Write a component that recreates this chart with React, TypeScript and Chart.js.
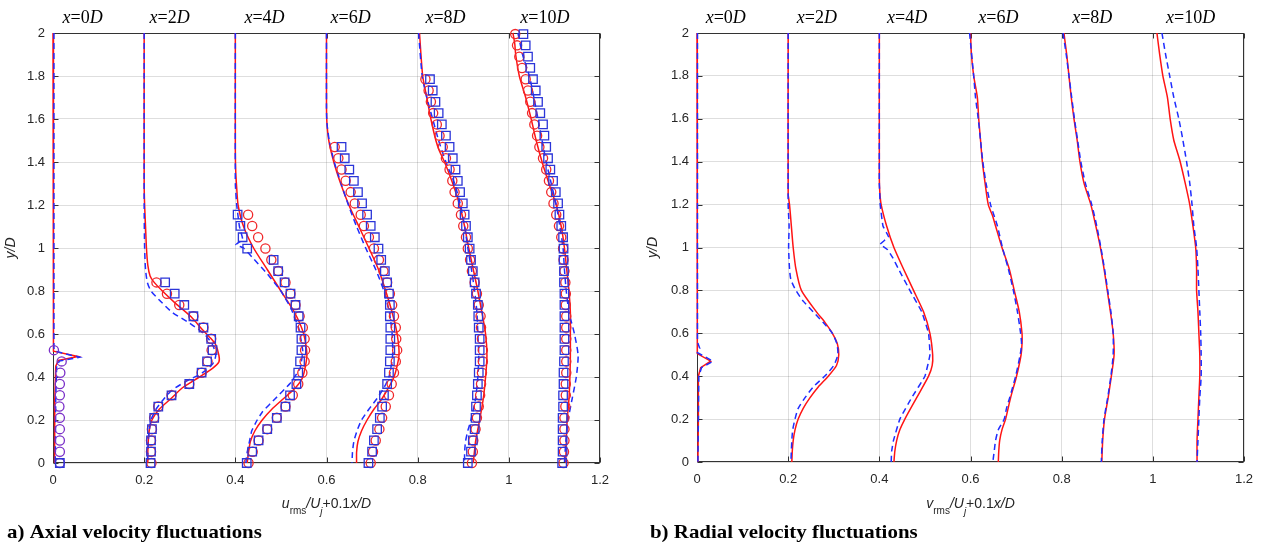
import React, { useEffect, useRef } from "react";
import { Chart, registerables } from "chart.js";

Chart.register(...registerables);

// ---------- data ----------
// y/D levels of the experimental points (bottom-up)
const EXP_Y = [0, 0.0525, 0.105, 0.1575, 0.21, 0.2625, 0.315, 0.3675, 0.42, 0.4725, 0.525, 0.5775, 0.63, 0.6825, 0.735, 0.7875, 0.84, 0.8925, 0.945, 0.9975, 1.05, 1.1025, 1.155, 1.2075, 1.26, 1.3125, 1.365, 1.4175, 1.47, 1.5225, 1.575, 1.6275, 1.68, 1.7325, 1.785, 1.8375, 1.89, 1.9425, 1.995];

const STATION_NAMES = ["0", "2", "4", "6", "8", "10"];
const U_LABEL_X = [0.065, 0.256, 0.464, 0.653, 0.861, 1.079];
const V_LABEL_X = [0.063, 0.263, 0.461, 0.661, 0.867, 1.083];

type P = [number, number][];

// (a) axial – simulation, solid red
const uRed0D: P = [[0, 2], [0, 0.53], [0.002, 0.52], [0.055, 0.495], [0.012, 0.477], [0.006, 0.45], [0.004, 0.3], [0.004, 0.1], [0.003, 0]];
const uRed2D: P = [[0.2, 2], [0.2, 1.3], [0.201, 1.2], [0.203, 1.1], [0.205, 1.0], [0.208, 0.92], [0.213, 0.87], [0.222, 0.84], [0.24, 0.8], [0.27, 0.74], [0.303, 0.68], [0.328, 0.62], [0.346, 0.58], [0.357, 0.55], [0.364, 0.5], [0.364, 0.47], [0.35, 0.44], [0.321, 0.4], [0.284, 0.35], [0.259, 0.3], [0.233, 0.25], [0.217, 0.2], [0.211, 0.15], [0.209, 0.1], [0.208, 0.05], [0.208, 0]];
const uRed4D: P = [[0.4, 2], [0.4, 1.45], [0.401, 1.35], [0.403, 1.28], [0.406, 1.2], [0.418, 1.1], [0.44, 1.0], [0.47, 0.9], [0.5, 0.8], [0.53, 0.7], [0.55, 0.6], [0.557, 0.5], [0.548, 0.4], [0.532, 0.35], [0.506, 0.3], [0.48, 0.25], [0.459, 0.2], [0.443, 0.15], [0.433, 0.1], [0.429, 0.05], [0.426, 0]];
const uRed6D: P = [[0.6, 2], [0.6, 1.65], [0.601, 1.58], [0.605, 1.5], [0.616, 1.4], [0.631, 1.3], [0.649, 1.2], [0.671, 1.1], [0.693, 1.0], [0.714, 0.9], [0.73, 0.8], [0.744, 0.7], [0.755, 0.6], [0.759, 0.5], [0.748, 0.4], [0.722, 0.3], [0.704, 0.25], [0.689, 0.2], [0.677, 0.15], [0.669, 0.1], [0.666, 0.05], [0.666, 0]];
const uRed8D: P = [[0.804, 2], [0.811, 1.8], [0.82, 1.7], [0.829, 1.6], [0.84, 1.5], [0.848, 1.45], [0.859, 1.4], [0.877, 1.3], [0.892, 1.2], [0.903, 1.1], [0.912, 1.0], [0.922, 0.9], [0.932, 0.8], [0.941, 0.7], [0.949, 0.6], [0.952, 0.5], [0.949, 0.4], [0.944, 0.3], [0.936, 0.2], [0.927, 0.1], [0.922, 0]];
const uRed10D: P = [[1.009, 2], [1.013, 1.95], [1.015, 1.9], [1.023, 1.8], [1.037, 1.7], [1.049, 1.6], [1.06, 1.5], [1.073, 1.4], [1.088, 1.3], [1.104, 1.2], [1.115, 1.1], [1.122, 1.0], [1.127, 0.9], [1.132, 0.8], [1.135, 0.7], [1.135, 0.6], [1.135, 0.5], [1.134, 0.4], [1.132, 0.3], [1.128, 0.2], [1.126, 0.1], [1.125, 0]];

// (a) axial – simulation, dashed blue
const uBlue0D: P = [[0.002, 2], [0.002, 0.535], [0.004, 0.52], [0.058, 0.492], [0.014, 0.474], [0.008, 0.45], [0.006, 0.3], [0.005, 0]];
const uBlue2D: P = [[0.2, 2], [0.2, 1.2], [0.201, 1.0], [0.203, 0.9], [0.207, 0.84], [0.215, 0.8], [0.237, 0.75], [0.262, 0.7], [0.3, 0.65], [0.332, 0.6], [0.35, 0.55], [0.357, 0.5], [0.35, 0.46], [0.328, 0.42], [0.292, 0.38], [0.262, 0.34], [0.244, 0.3], [0.226, 0.25], [0.215, 0.2], [0.211, 0.15], [0.209, 0.1], [0.208, 0.05], [0.207, 0]];
const uBlue4D: P = [[0.4, 2], [0.4, 1.3], [0.403, 1.2], [0.409, 1.1], [0.416, 1.04], [0.401, 1.015], [0.418, 1.0], [0.44, 0.95], [0.47, 0.88], [0.5, 0.8], [0.522, 0.72], [0.54, 0.62], [0.548, 0.52], [0.542, 0.44], [0.52, 0.37], [0.488, 0.3], [0.46, 0.24], [0.448, 0.2], [0.436, 0.15], [0.431, 0.1], [0.426, 0.05], [0.423, 0]];
const uBlue6D: P = [[0.6, 2], [0.6, 1.65], [0.601, 1.58], [0.606, 1.5], [0.617, 1.4], [0.632, 1.3], [0.648, 1.2], [0.666, 1.1], [0.686, 1.0], [0.708, 0.9], [0.726, 0.8], [0.738, 0.7], [0.744, 0.6], [0.745, 0.5], [0.737, 0.4], [0.726, 0.35], [0.711, 0.3], [0.693, 0.25], [0.677, 0.2], [0.667, 0.15], [0.66, 0.1], [0.657, 0.05], [0.656, 0]];
const uBlue8D: P = [[0.802, 2], [0.81, 1.8], [0.82, 1.7], [0.833, 1.6], [0.846, 1.5], [0.862, 1.4], [0.881, 1.3], [0.894, 1.2], [0.903, 1.1], [0.91, 1.0], [0.918, 0.9], [0.925, 0.8], [0.93, 0.7], [0.932, 0.6], [0.934, 0.5], [0.932, 0.4], [0.927, 0.3], [0.917, 0.2], [0.91, 0.15], [0.905, 0.1], [0.903, 0.05], [0.903, 0]];
const uBlue10D: P = [[1.02, 2], [1.03, 1.9], [1.045, 1.8], [1.055, 1.7], [1.064, 1.6], [1.073, 1.5], [1.082, 1.4], [1.093, 1.3], [1.104, 1.2], [1.112, 1.1], [1.119, 1.0], [1.122, 0.9], [1.126, 0.8], [1.132, 0.7], [1.144, 0.6], [1.152, 0.5], [1.148, 0.4], [1.139, 0.3], [1.13, 0.2], [1.125, 0.1], [1.122, 0]];

// (a) axial – experiments (x values at EXP_Y levels, bottom-up)
const uCirc0D = [0.015, 0.015, 0.015, 0.015, 0.015, 0.014, 0.015, 0.015, 0.016, 0.019, 0.002];
const uSq0D = [0.015];
const uCirc2D = [0.216, 0.215, 0.215, 0.217, 0.222, 0.231, 0.26, 0.299, 0.326, 0.339, 0.348, 0.347, 0.33, 0.308, 0.277, 0.25, 0.227];
const uSq2D = [0.214, 0.215, 0.215, 0.217, 0.222, 0.231, 0.26, 0.299, 0.326, 0.338, 0.35, 0.347, 0.33, 0.308, 0.288, 0.267, 0.246];
const uCirc4D = [0.429, 0.438, 0.451, 0.47, 0.491, 0.51, 0.526, 0.538, 0.547, 0.552, 0.553, 0.552, 0.548, 0.541, 0.532, 0.521, 0.51, 0.494, 0.479, 0.466, 0.45, 0.437, 0.428];
const uSq4D = [0.425, 0.437, 0.451, 0.47, 0.491, 0.51, 0.52, 0.534, 0.538, 0.542, 0.545, 0.545, 0.543, 0.539, 0.532, 0.521, 0.508, 0.494, 0.484, 0.426, 0.416, 0.411, 0.405];
const uCirc6D = [0.697, 0.702, 0.708, 0.716, 0.722, 0.73, 0.737, 0.743, 0.748, 0.752, 0.755, 0.753, 0.752, 0.748, 0.744, 0.739, 0.733, 0.725, 0.715, 0.704, 0.693, 0.682, 0.675, 0.662, 0.653, 0.642, 0.633, 0.626, 0.618];
const uSq6D = [0.692, 0.7, 0.704, 0.711, 0.717, 0.722, 0.726, 0.733, 0.737, 0.739, 0.74, 0.74, 0.74, 0.739, 0.739, 0.737, 0.733, 0.728, 0.72, 0.714, 0.706, 0.697, 0.689, 0.678, 0.669, 0.66, 0.65, 0.64, 0.633];
const uCirc8D = [0.919, 0.921, 0.922, 0.927, 0.93, 0.934, 0.937, 0.939, 0.941, 0.943, 0.943, 0.941, 0.939, 0.938, 0.934, 0.93, 0.925, 0.919, 0.915, 0.91, 0.906, 0.9, 0.895, 0.888, 0.881, 0.876, 0.87, 0.862, 0.855, 0.848, 0.842, 0.834, 0.829, 0.824, 0.817];
const uSq8D = [0.91, 0.917, 0.921, 0.925, 0.927, 0.928, 0.93, 0.932, 0.934, 0.936, 0.936, 0.936, 0.934, 0.933, 0.932, 0.928, 0.925, 0.921, 0.917, 0.914, 0.91, 0.906, 0.903, 0.899, 0.893, 0.888, 0.883, 0.877, 0.87, 0.862, 0.853, 0.846, 0.839, 0.833, 0.827];
const uCirc10D = [1.12, 1.121, 1.122, 1.122, 1.122, 1.124, 1.125, 1.125, 1.126, 1.126, 1.126, 1.126, 1.126, 1.126, 1.125, 1.125, 1.124, 1.122, 1.12, 1.119, 1.115, 1.11, 1.104, 1.098, 1.093, 1.088, 1.082, 1.075, 1.067, 1.062, 1.056, 1.051, 1.047, 1.042, 1.037, 1.029, 1.023, 1.018, 1.014];
const uSq10D = [1.117, 1.118, 1.118, 1.118, 1.118, 1.119, 1.119, 1.12, 1.12, 1.121, 1.122, 1.122, 1.122, 1.122, 1.122, 1.122, 1.121, 1.121, 1.12, 1.12, 1.119, 1.115, 1.111, 1.108, 1.103, 1.097, 1.091, 1.086, 1.082, 1.078, 1.075, 1.069, 1.064, 1.059, 1.053, 1.047, 1.042, 1.037, 1.032];

// (b) radial – simulation, solid red
const vRed0D: P = [[0, 2], [0, 0.6], [0.002, 0.53], [0, 0.505], [0.03, 0.47], [0.008, 0.44], [0.003, 0.4], [0.003, 0.2], [0.002, 0]];
const vRed2D: P = [[0.2, 2], [0.2, 1.25], [0.203, 1.2], [0.207, 1.1], [0.211, 1.0], [0.217, 0.9], [0.229, 0.8], [0.262, 0.7], [0.281, 0.65], [0.297, 0.6], [0.308, 0.55], [0.311, 0.5], [0.306, 0.45], [0.288, 0.4], [0.266, 0.35], [0.248, 0.3], [0.233, 0.25], [0.222, 0.2], [0.215, 0.15], [0.211, 0.1], [0.209, 0.05], [0.208, 0]];
const vRed4D: P = [[0.4, 2], [0.4, 1.32], [0.401, 1.26], [0.404, 1.2], [0.416, 1.1], [0.432, 1.0], [0.453, 0.9], [0.475, 0.8], [0.497, 0.7], [0.511, 0.6], [0.517, 0.5], [0.516, 0.45], [0.508, 0.4], [0.482, 0.3], [0.456, 0.2], [0.445, 0.15], [0.438, 0.1], [0.434, 0.05], [0.432, 0]];
const vRed6D: P = [[0.6, 2], [0.602, 1.9], [0.607, 1.8], [0.615, 1.7], [0.618, 1.6], [0.622, 1.5], [0.626, 1.4], [0.632, 1.3], [0.639, 1.2], [0.648, 1.15], [0.655, 1.1], [0.669, 1.0], [0.685, 0.9], [0.696, 0.8], [0.707, 0.7], [0.713, 0.6], [0.713, 0.55], [0.711, 0.5], [0.701, 0.4], [0.688, 0.3], [0.677, 0.2], [0.669, 0.15], [0.664, 0.1], [0.662, 0.05], [0.661, 0]];
const vRed8D: P = [[0.805, 2], [0.811, 1.9], [0.816, 1.8], [0.821, 1.7], [0.827, 1.6], [0.834, 1.5], [0.84, 1.4], [0.849, 1.3], [0.864, 1.2], [0.875, 1.1], [0.885, 1.0], [0.893, 0.9], [0.9, 0.8], [0.907, 0.7], [0.913, 0.6], [0.915, 0.5], [0.909, 0.4], [0.902, 0.3], [0.894, 0.2], [0.89, 0.1], [0.888, 0]];
const vRed10D: P = [[1.009, 2], [1.015, 1.9], [1.022, 1.8], [1.032, 1.7], [1.038, 1.6], [1.046, 1.5], [1.053, 1.45], [1.06, 1.4], [1.071, 1.3], [1.081, 1.2], [1.088, 1.1], [1.094, 1.0], [1.096, 0.9], [1.096, 0.8], [1.099, 0.7], [1.101, 0.6], [1.103, 0.5], [1.103, 0.4], [1.101, 0.3], [1.099, 0.2], [1.097, 0.1], [1.097, 0]];

// (b) radial – simulation, dashed blue
const vBlue0D: P = [[0.001, 2], [0.001, 0.56], [0.006, 0.53], [0.001, 0.51], [0.035, 0.47], [0.01, 0.44], [0.004, 0.4], [0.003, 0.2], [0.002, 0]];
const vBlue2D: P = [[0.2, 2], [0.2, 1.2], [0.202, 1.1], [0.201, 1.0], [0.203, 0.9], [0.206, 0.85], [0.217, 0.8], [0.233, 0.75], [0.255, 0.7], [0.277, 0.65], [0.297, 0.6], [0.307, 0.55], [0.309, 0.5], [0.3, 0.45], [0.28, 0.4], [0.255, 0.35], [0.237, 0.3], [0.222, 0.25], [0.215, 0.2], [0.21, 0.15], [0.208, 0.1], [0.206, 0]];
const vBlue4D: P = [[0.4, 2], [0.4, 1.3], [0.402, 1.2], [0.408, 1.1], [0.42, 1.05], [0.402, 1.015], [0.418, 0.99], [0.43, 0.95], [0.442, 0.9], [0.467, 0.8], [0.493, 0.7], [0.508, 0.6], [0.511, 0.5], [0.5, 0.4], [0.471, 0.3], [0.445, 0.2], [0.431, 0.1], [0.427, 0.05], [0.426, 0]];
const vBlue6D: P = [[0.598, 2], [0.607, 1.8], [0.611, 1.7], [0.617, 1.6], [0.622, 1.5], [0.627, 1.4], [0.634, 1.3], [0.644, 1.2], [0.659, 1.1], [0.67, 1.0], [0.683, 0.9], [0.694, 0.8], [0.703, 0.7], [0.71, 0.6], [0.712, 0.55], [0.709, 0.5], [0.699, 0.4], [0.686, 0.3], [0.679, 0.25], [0.674, 0.2], [0.661, 0.15], [0.655, 0.1], [0.652, 0.05], [0.649, 0]];
const vBlue8D: P = [[0.803, 2], [0.81, 1.9], [0.816, 1.8], [0.822, 1.7], [0.828, 1.6], [0.835, 1.5], [0.842, 1.4], [0.852, 1.3], [0.866, 1.2], [0.877, 1.1], [0.886, 1.0], [0.894, 0.9], [0.901, 0.8], [0.908, 0.7], [0.913, 0.6], [0.913, 0.5], [0.908, 0.4], [0.901, 0.3], [0.893, 0.2], [0.889, 0.1], [0.887, 0]];
const vBlue10D: P = [[1.02, 2], [1.028, 1.9], [1.037, 1.8], [1.046, 1.7], [1.057, 1.6], [1.066, 1.5], [1.074, 1.4], [1.081, 1.3], [1.086, 1.2], [1.09, 1.1], [1.096, 1.0], [1.099, 0.9], [1.101, 0.8], [1.103, 0.7], [1.105, 0.6], [1.106, 0.5], [1.106, 0.4], [1.103, 0.3], [1.101, 0.2], [1.099, 0.1], [1.097, 0]];

// ---------- styling ----------
const RED = "#ff1414";
const BLUE = "#1f2dff";
const CIRC = "#f0282a";
const CIRC0 = "#7a2fc8";
const SQ = "#2b35d8";
const SANS = '"Liberation Sans", Arial, sans-serif';
const SERIF = '"Liberation Serif", "Times New Roman", serif';

function lineDs(pts: P, color: string, dashed: boolean, tension = 0.22) {
  return {
    data: pts.map(([x, y]) => ({ x, y })),
    borderColor: color,
    backgroundColor: color,
    borderWidth: 1.5,
    borderDash: dashed ? [6, 4] : [],
    pointRadius: 0,
    pointHoverRadius: 0,
    tension,
    fill: false,
    showLine: true,
    clip: 3,
    order: dashed ? 3 : 4,
  };
}

function markDs(xs: number[], color: string, style: "circle" | "rect") {
  return {
    data: xs.map((x, i) => ({ x, y: EXP_Y[i] })),
    showLine: false,
    pointStyle: style,
    pointRadius: style === "rect" ? 6 : 4.6,
    pointHoverRadius: 0,
    pointBorderColor: color,
    pointBackgroundColor: "rgba(0,0,0,0)",
    pointBorderWidth: 1.3,
    borderColor: color,
    backgroundColor: "rgba(0,0,0,0)",
    clip: false,
    order: style === "rect" ? 1 : 2,
  };
}

type Seg = { t: string; font: string; dy?: number };

function drawRich(ctx: CanvasRenderingContext2D, segs: Seg[], cx: number, base: number) {
  let total = 0;
  for (const s of segs) {
    ctx.font = s.font;
    total += ctx.measureText(s.t).width;
  }
  let x = cx - total / 2;
  ctx.textAlign = "left";
  ctx.textBaseline = "alphabetic";
  for (const s of segs) {
    ctx.font = s.font;
    ctx.fillText(s.t, x, base + (s.dy || 0));
    x += ctx.measureText(s.t).width;
  }
}

const fmt = (v: any) => String(Math.round(Number(v) * 10) / 10);

type PanelCfg = {
  width: number;
  left: number;
  right: number;
  top: number;
  bottom: number;
  labelX: number[];
  sym: string;
  caption: string;
  captionX: number;
  yLabelX: number;
  datasets: any[];
};

function decorPlugin(cfg: PanelCfg) {
  return {
    id: "decor",
    beforeDatasetsDraw(chart: any) {
      const { ctx, chartArea: a, scales } = chart;
      const xs = scales.x;
      const ys = scales.y;
      ctx.save();
      ctx.strokeStyle = "#333333";
      ctx.lineWidth = 1;
      const L = Math.round(a.left) + 0.5;
      const R = Math.round(a.right) - 0.5;
      const T = Math.round(a.top) + 0.5;
      const B = Math.round(a.bottom) - 0.5;
      ctx.strokeRect(L, T, R - L, B - T);
      const tl = 5;
      ctx.beginPath();
      for (const t of xs.ticks) {
        const px = Math.round(xs.getPixelForValue(t.value)) + 0.5;
        ctx.moveTo(px, B);
        ctx.lineTo(px, B - tl);
        ctx.moveTo(px, T);
        ctx.lineTo(px, T + tl);
      }
      for (const t of ys.ticks) {
        const py = Math.round(ys.getPixelForValue(t.value)) + 0.5;
        ctx.moveTo(L, py);
        ctx.lineTo(L + tl, py);
        ctx.moveTo(R, py);
        ctx.lineTo(R - tl, py);
      }
      ctx.stroke();
      ctx.restore();
    },
    afterDraw(chart: any) {
      const { ctx, chartArea: a, scales } = chart;
      const xs = scales.x;
      const ys = scales.y;
      ctx.save();
      ctx.fillStyle = "#000";
      // station labels
      const big = 18;
      cfg.labelX.forEach((lx, i) => {
        drawRich(
          ctx,
          [
            { t: "x", font: `italic ${big}px ${SERIF}` },
            { t: "=" + STATION_NAMES[i], font: `${big}px ${SERIF}` },
            { t: "D", font: `italic ${big}px ${SERIF}` },
          ],
          xs.getPixelForValue(lx),
          23
        );
      });
      // x-axis title
      ctx.fillStyle = "#262626";
      const cx = (a.left + a.right) / 2;
      drawRich(
        ctx,
        [
          { t: cfg.sym, font: `italic 14px ${SANS}` },
          { t: "rms", font: `10px ${SANS}`, dy: 6 },
          { t: "/", font: `italic 14px ${SANS}` },
          { t: "U", font: `italic 14px ${SANS}` },
          { t: "j", font: `italic 10px ${SANS}`, dy: 7 },
          { t: "+0.1", font: `14px ${SANS}` },
          { t: "x", font: `italic 14px ${SANS}` },
          { t: "/", font: `italic 14px ${SANS}` },
          { t: "D", font: `italic 14px ${SANS}` },
        ],
        cx,
        508
      );
      // y-axis title
      ctx.save();
      ctx.translate(cfg.yLabelX, ys.getPixelForValue(1));
      ctx.rotate(-Math.PI / 2);
      drawRich(
        ctx,
        [
          { t: "y", font: `italic 14px ${SANS}` },
          { t: "/", font: `italic 14px ${SANS}` },
          { t: "D", font: `italic 14px ${SANS}` },
        ],
        0,
        5
      );
      ctx.restore();
      // caption (slightly stretched horizontally like the source figure)
      ctx.save();
      ctx.fillStyle = "#000";
      ctx.font = `bold 19px ${SERIF}`;
      ctx.textAlign = "left";
      ctx.textBaseline = "alphabetic";
      ctx.translate(cfg.captionX, 538);
      ctx.scale(1.1, 1);
      ctx.fillText(cfg.caption, 0, 0);
      ctx.restore();
      ctx.restore();
    },
  };
}

function Panel({ cfg, x }: { cfg: PanelCfg; x: number }) {
  const ref = useRef<HTMLCanvasElement | null>(null);
  useEffect(() => {
    if (!ref.current) return;
    const H = 542;
    const chart = new Chart(ref.current, {
      type: "line",
      data: { datasets: cfg.datasets },
      options: {
        responsive: false,
        animation: false,
        events: [],
        layout: { padding: { left: 0, top: cfg.top, right: cfg.width - cfg.right, bottom: 0 } },
        plugins: { legend: { display: false }, tooltip: { enabled: false } },
        scales: {
          x: {
            type: "linear",
            min: 0,
            max: 1.2,
            ticks: {
              stepSize: 0.2,
              padding: 10,
              color: "#262626",
              font: { family: SANS, size: 13 },
              callback: fmt,
              maxRotation: 0,
              autoSkip: false,
            },
            grid: { color: "rgba(0,0,0,0.13)", drawTicks: false },
            border: { display: false },
            afterFit: (s: any) => {
              s.height = H - cfg.bottom;
            },
          },
          y: {
            type: "linear",
            min: 0,
            max: 2,
            ticks: {
              stepSize: 0.2,
              padding: 8,
              color: "#262626",
              font: { family: SANS, size: 13 },
              callback: fmt,
              autoSkip: false,
            },
            grid: { color: "rgba(0,0,0,0.13)", drawTicks: false },
            border: { display: false },
            afterFit: (s: any) => {
              s.width = cfg.left;
            },
          },
        },
      } as any,
      plugins: [decorPlugin(cfg) as any],
    });
    return () => chart.destroy();
  }, [cfg]);
  return (
    <canvas
      ref={ref}
      width={cfg.width}
      height={542}
      style={{ position: "absolute", left: x, top: 0, width: cfg.width, height: 542 }}
    />
  );
}

const U_DATASETS = [
  lineDs(uRed0D, RED, false, 0),
  lineDs(uRed2D, RED, false),
  lineDs(uRed4D, RED, false),
  lineDs(uRed6D, RED, false),
  lineDs(uRed8D, RED, false),
  lineDs(uRed10D, RED, false),
  lineDs(uBlue0D, BLUE, true, 0),
  lineDs(uBlue2D, BLUE, true),
  lineDs(uBlue4D, BLUE, true, 0.1),
  lineDs(uBlue6D, BLUE, true),
  lineDs(uBlue8D, BLUE, true),
  lineDs(uBlue10D, BLUE, true),
  markDs(uCirc0D, CIRC0, "circle"),
  markDs(uCirc2D, CIRC, "circle"),
  markDs(uCirc4D, CIRC, "circle"),
  markDs(uCirc6D, CIRC, "circle"),
  markDs(uCirc8D, CIRC, "circle"),
  markDs(uCirc10D, CIRC, "circle"),
  markDs(uSq0D, SQ, "rect"),
  markDs(uSq2D, SQ, "rect"),
  markDs(uSq4D, SQ, "rect"),
  markDs(uSq6D, SQ, "rect"),
  markDs(uSq8D, SQ, "rect"),
  markDs(uSq10D, SQ, "rect"),
];

const V_DATASETS = [
  lineDs(vRed0D, RED, false, 0),
  lineDs(vRed2D, RED, false),
  lineDs(vRed4D, RED, false),
  lineDs(vRed6D, RED, false),
  lineDs(vRed8D, RED, false),
  lineDs(vRed10D, RED, false),
  lineDs(vBlue0D, BLUE, true, 0),
  lineDs(vBlue2D, BLUE, true),
  lineDs(vBlue4D, BLUE, true, 0.1),
  lineDs(vBlue6D, BLUE, true),
  lineDs(vBlue8D, BLUE, true),
  lineDs(vBlue10D, BLUE, true),
];

const LEFT_CFG: PanelCfg = {
  width: 640,
  left: 53,
  right: 600,
  top: 33,
  bottom: 463,
  labelX: U_LABEL_X,
  sym: "u",
  caption: "a) Axial velocity fluctuations",
  captionX: 7,
  yLabelX: 10,
  datasets: U_DATASETS,
};

const RIGHT_CFG: PanelCfg = {
  width: 638,
  left: 57,
  right: 604,
  top: 33,
  bottom: 462,
  labelX: V_LABEL_X,
  sym: "v",
  caption: "b) Radial velocity fluctuations",
  captionX: 10,
  yLabelX: 12,
  datasets: V_DATASETS,
};

export default function App() {
  return (
    <div style={{ position: "absolute", left: 0, top: 0, width: 1278, height: 542, background: "#fff", overflow: "hidden" }}>
      <Panel cfg={LEFT_CFG} x={0} />
      <Panel cfg={RIGHT_CFG} x={640} />
    </div>
  );
}
